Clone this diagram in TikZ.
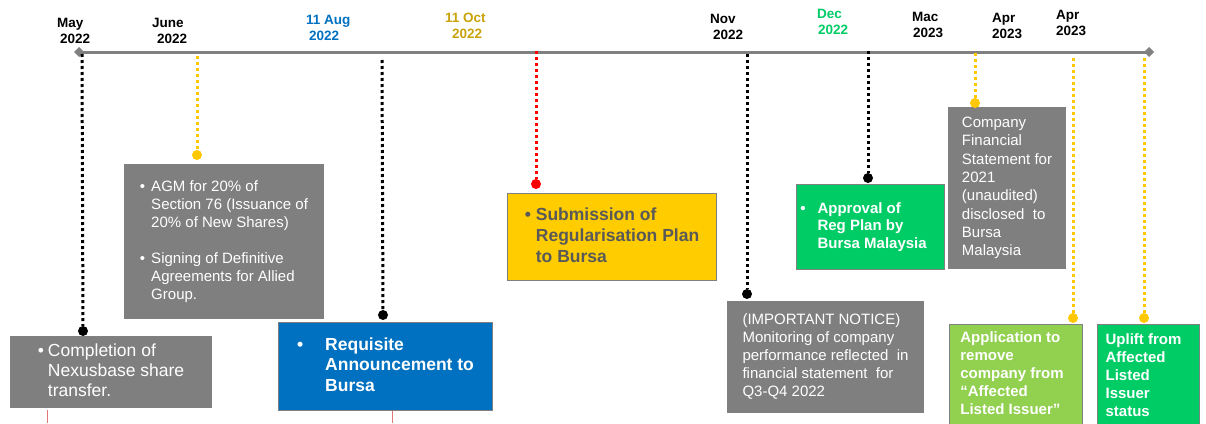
\documentclass[tikz,border=0pt]{standalone}
\usepackage{fontspec}
\setmainfont{Liberation Sans}
\usetikzlibrary{arrows.meta}
\definecolor{boxgrey}{HTML}{7F7F7F}
\definecolor{axisgrey}{HTML}{808080}
\definecolor{rblue}{HTML}{0070C0}
\definecolor{ryellow}{HTML}{FFCC00}
\definecolor{dotyellow}{HTML}{FFC800}
\definecolor{rgreen}{HTML}{00CC66}
\definecolor{lgreen}{HTML}{92D050}
\definecolor{goldtxt}{HTML}{C9A20A}
\definecolor{darktext}{HTML}{595959}
\definecolor{pinkline}{HTML}{E07878}
\begin{document}
\begin{tikzpicture}[x=1pt,y=-1pt,
  datelbl/.style={font=\fontsize{13.5}{16.5}\selectfont\bfseries, inner sep=0pt, anchor=west},
  evbox/.style={anchor=north west, inner sep=0pt, draw=axisgrey, line width=1pt, text=white,
    font=\fontsize{15}{18}\selectfont},
  dotline/.style={line width=3pt, dash pattern=on 3pt off 3pt},
  enddot/.style={circle, fill, inner sep=0pt, minimum size=10pt},
  axisline/.style={line width=3pt, draw=axisgrey, {Diamond[length=10pt,width=10pt]}-{Diamond[length=10pt,width=10pt]}},
  tail/.style={draw=pinkline, line width=1pt}
]
\useasboundingbox (0,0) rectangle (1206,423);

% axis
\coordinate (axL) at (74,52);
\coordinate (axR) at (1154,52);
\draw[axisline] (axL) -- (axR);

% date labels
\node[datelbl] (lmay) at (57,32) {\begin{tabular}{@{}l@{}}May\\\hspace*{3pt}2022\end{tabular}};
\node[datelbl] (ljun) at (152,32) {\begin{tabular}{@{}l@{}}June\\\hspace*{5pt}2022\end{tabular}};
\node[datelbl, text=rblue] (laug) at (306,29) {\begin{tabular}{@{}l@{}}11 Aug\\\hspace*{3pt}2022\end{tabular}};
\node[datelbl, text=goldtxt] (loct) at (445,27) {\begin{tabular}{@{}l@{}}11 Oct\\\hspace*{7pt}2022\end{tabular}};
\node[datelbl] (lnov) at (710,28) {\begin{tabular}{@{}l@{}}Nov\\\hspace*{3pt}2022\end{tabular}};
\node[datelbl, text=rgreen] (ldec) at (817,23) {\begin{tabular}{@{}l@{}}Dec\\\hspace*{1pt}2022\end{tabular}};
\node[datelbl] (lmac) at (912,26) {\begin{tabular}{@{}l@{}}Mac\\\hspace*{1pt}2023\end{tabular}};
\node[datelbl] (lapr) at (992,27) {\begin{tabular}{@{}l@{}}Apr\\2023\end{tabular}};
\node[datelbl] (lapr2) at (1056,24) {\begin{tabular}{@{}l@{}}Apr\\2023\end{tabular}};

% boxes
\node[evbox, fill=boxgrey, minimum width=201pt, minimum height=71pt,
  font=\fontsize{17.5}{20}\selectfont] (compl) at (10,336)
  {\begin{tabular}{@{}l@{\hspace{4pt}}l@{}}\textbullet & Completion of\\ & Nexusbase share\\ & transfer.\end{tabular}};

\node[evbox, fill=boxgrey, minimum width=199pt, minimum height=154pt] (agm) at (124,164)
  {\begin{tabular}{@{}l@{\hspace{6pt}}l@{}}
   \textbullet & AGM for 20\% of\\
    & Section 76 (Issuance of\\
    & 20\% of New Shares)\\[18pt]
   \textbullet & Signing of Definitive\\
    & Agreements for Allied\\
    & Group.
   \end{tabular}};

\node[evbox, fill=rblue, minimum width=214pt, minimum height=88pt,
  font=\fontsize{17.5}{20.5}\selectfont\bfseries] (req) at (278,322)
  {\begin{tabular}{@{}l@{\hspace{22pt}}l@{}}\textbullet & Requisite\\ & Announcement to\\ & Bursa\end{tabular}};

\node[evbox, fill=ryellow, text=darktext, minimum width=209pt, minimum height=87pt,
  font=\fontsize{17.5}{21}\selectfont\bfseries] (sub) at (507,193)
  {\begin{tabular}{@{}l@{\hspace{5pt}}l@{}}\textbullet & Submission of\\ & Regularisation Plan\\ & to Bursa\end{tabular}};

\node[evbox, fill=rgreen, minimum width=148pt, minimum height=85pt,
  font=\fontsize{15}{17.5}\selectfont\bfseries] (appr) at (796,184)
  {\begin{tabular}{@{}l@{\hspace{12pt}}l@{}}\textbullet & Approval of\\ & Reg Plan by\\ & Bursa Malaysia\end{tabular}\hspace*{14pt}};

\node[evbox, fill=boxgrey, minimum width=196pt, minimum height=111pt] (notice) at (727,301)
  {\begin{tabular}{@{}l@{}}(IMPORTANT NOTICE)\\Monitoring of company\\performance reflected~ in\\financial statement~ for\\Q3-Q4 2022\end{tabular}};

\node[evbox, fill=boxgrey, minimum width=117pt, minimum height=161pt,
  font=\fontsize{15}{18.3}\selectfont] (comp) at (948,107)
  {\begin{tabular}{@{}l@{}}Company\\Financial\\Statement for\\2021\\(unaudited)\\disclosed~ to\\Bursa\\Malaysia\end{tabular}};

\node[evbox, fill=lgreen, minimum width=133pt, minimum height=100pt,
  font=\fontsize{15}{18}\selectfont\bfseries] (appl) at (949,324)
  {\begin{tabular}{@{}l@{}}Application to\\remove\\company from\\“Affected\\Listed Issuer”\end{tabular}\hspace*{8pt}};

\node[evbox, fill=rgreen, minimum width=102pt, minimum height=104pt,
  font=\fontsize{15}{18}\selectfont\bfseries] (upl) at (1097,324)
  {\begin{tabular}{@{}l@{}}Uplift from\\Affected\\Listed\\Issuer\\status\end{tabular}\hspace*{10pt}};

% connector tops and end dots
\coordinate (t1) at (82,54);
\coordinate (t2) at (197,56);
\coordinate (t3) at (382,60);
\coordinate (t4) at (536,51);
\coordinate (t5) at (747,54);
\coordinate (t6) at (868,51);
\coordinate (t7) at (975,53);
\coordinate (t8) at (1073,58);
\coordinate (t9) at (1144,58);

\node[enddot, fill=black] (d1) at (83,331) {};
\node[enddot, fill=dotyellow] (d2) at (197,155) {};
\node[enddot, fill=black] (d3) at (383,315) {};
\node[enddot, fill=red] (d4) at (536,184) {};
\node[enddot, fill=black] (d5) at (747,294) {};
\node[enddot, fill=black] (d6) at (868,178) {};
\node[enddot, fill=dotyellow] (d7) at (975,103) {};
\node[enddot, fill=dotyellow] (d8) at (1073,318) {};
\node[enddot, fill=dotyellow] (d9) at (1144,318) {};

\draw[dotline, black] (t1) -- (d1);
\draw[dotline, dotyellow] (t2) -- (d2);
\draw[dotline, black] (t3) -- (d3);
\draw[dotline, red] (t4) -- (d4);
\draw[dotline, black] (t5) -- (d5);
\draw[dotline, black] (t6) -- (d6);
\draw[dotline, dotyellow] (t7) -- (d7);
\draw[dotline, dotyellow] (t8) -- (d8);
\draw[dotline, dotyellow] (t9) -- (d9);

% small tails below boxes
\coordinate (p1a) at (47.5,410);
\coordinate (p1b) at (47.5,423);
\coordinate (p2a) at (392,411);
\coordinate (p2b) at (392,423);
\draw[tail] (p1a) -- (p1b);
\draw[tail] (p2a) -- (p2b);
\end{tikzpicture}
\end{document}
